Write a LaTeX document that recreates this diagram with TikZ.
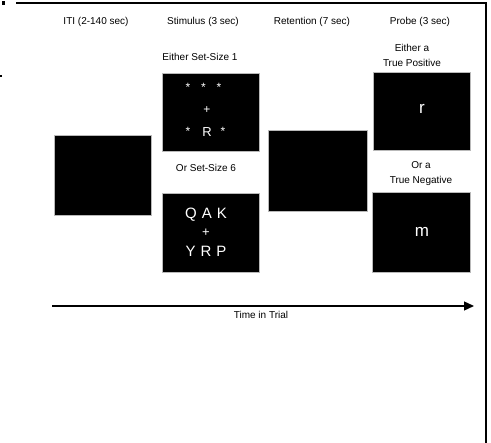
\documentclass[tikz,border=0pt]{standalone}
\usepackage{fontspec}
\setmainfont{Liberation Sans}
\usetikzlibrary{arrows.meta}
\begin{document}
\begin{tikzpicture}[x=1pt,y=-1pt,
  screen/.style={draw=gray!55,fill=black,line width=0.8pt,inner sep=0pt},
  lbl/.style={font=\fontsize{10}{12}\selectfont,inner sep=0pt,align=center},
  sym/.style={text=white,inner sep=0pt,font=\fontsize{#1}{#1}\selectfont},
  sym/.default=12]
\useasboundingbox (0,0) rectangle (491,443);
% frame lines
\coordinate (fa) at (16,3);
\coordinate (fb) at (486,3);
\coordinate (fc) at (486,443);
\draw[line width=1.4pt] (fa) -- (fb) -- (fc);
% cropped marks at left edge
\fill (2,1) rectangle (5,5);
\fill (0,75) rectangle (2,77);
% headers
\node[lbl] (h1) at (96,22) {ITI (2-140 sec)};
\node[lbl] (h2) at (203,22) {Stimulus (3 sec)};
\node[lbl] (h3) at (312,22) {Retention (7 sec)};
\node[lbl] (h4) at (420,22) {Probe (3 sec)};
% screens
\node[screen,minimum width=97pt,minimum height=80pt] (iti) at (102.5,175) {};
\node[screen,minimum width=97pt,minimum height=78pt] (s1) at (210.5,112) {};
\node[screen,minimum width=97pt,minimum height=79pt] (s2) at (210.5,232.5) {};
\node[screen,minimum width=99pt,minimum height=81pt] (ret) at (317.5,170.5) {};
\node[screen,minimum width=97pt,minimum height=78pt] (p1) at (421.5,111) {};
\node[screen,minimum width=98pt,minimum height=80pt] (p2) at (421,232) {};
% stimulus labels
\node[lbl] (e1) at (200,57) {Either Set-Size 1};
\node[lbl] (o6) at (206,168) {Or Set-Size 6};
% set-size 1 content
\node[sym] (a1) at (188,87) {*};
\node[sym] (a2) at (203.5,87) {*};
\node[sym] (a3) at (219,87) {*};
\node[sym] (c1) at (207,110) {+};
\node[sym] (a4) at (188,131) {*};
\node[sym=13] (r1) at (207,132) {R};
\node[sym] (a5) at (223,131) {*};
% set-size 6 content
\node[sym=15] (q6) at (206,215) {Q\hspace{5pt}A\hspace{5pt}K};
\node[sym=13] (c6) at (206,233) {+};
\node[sym=15] (y6) at (206,251) {Y\hspace{5pt}R\hspace{5pt}P};
% probe labels
\node[lbl,font=\fontsize{10}{15}\selectfont] (pp) at (412,55) {Either a\\True Positive};
\node[lbl,font=\fontsize{10}{15}\selectfont] (pn) at (421,173.5) {Or a\\True Negative};
\node[sym=17] (pr) at (422,109) {r};
\node[sym=17] (pm) at (422,231.5) {m};
% time axis
\coordinate (t0) at (52,306);
\coordinate (t1) at (474,306);
\draw[line width=1.3pt,-{Triangle[length=10pt,width=9pt]}] (t0) -- (t1);
\node[lbl] (tt) at (261,315) {Time in Trial};
\end{tikzpicture}
\end{document}
